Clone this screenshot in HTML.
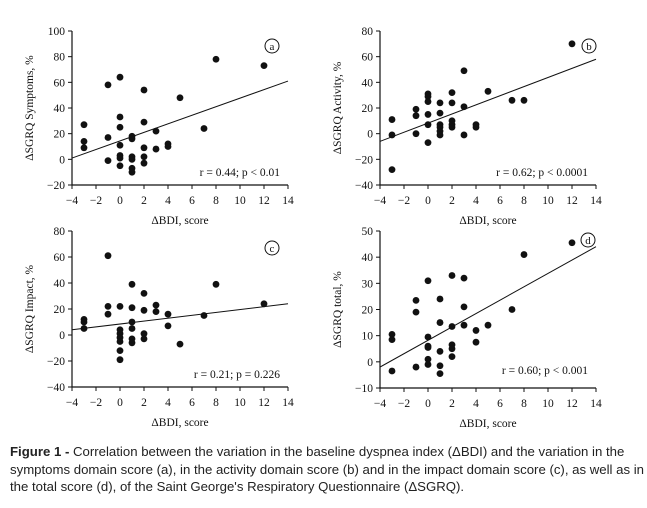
<!DOCTYPE html>
<html><head><meta charset="utf-8"><style>
body{margin:0;background:#fff;width:647px;height:508px;overflow:hidden}
svg{position:absolute;left:0;top:0}
.cap{position:absolute;left:10px;top:443px;width:640px;font:13.2px/17.5px "Liberation Sans",sans-serif;color:#222;white-space:nowrap}
</style></head><body>
<svg id="s" width="647" height="508" font-family="Liberation Serif, serif" fill="#111"></svg>
<div class="cap"><b>Figure 1 -</b> Correlation between the variation in the baseline dyspnea index (ΔBDI) and the variation in the<br>symptoms domain score (a), in the activity domain score (b) and in the impact domain score (c), as well as in<br>the total score (d), of the Saint George's Respiratory Questionnaire (ΔSGRQ).</div>
<script>
const P=[
{x0:72,x1:288,yt:31,yb:185,ymin:-20,ymax:100,step:20,lab:"ΔSGRQ Symptoms, %",tag:"a",tc:[272,46],st:"r = 0.44; p < 0.01",sy:176,line:[[-4,1],[14,61]],
pts:[[-3,27],[-3,14],[-3,9],[-1,58],[-1,17],[-1,-1],[0,64],[0,33],[0,25],[0,11],[0,3],[0,1],[0,-5],[1,18],[1,16],[1,2],[1,0],[1,-7],[1,-10],[2,54],[2,29],[2,9],[2,2],[2,-3],[3,22],[3,8],[4,12],[4,10],[5,48],[7,24],[8,78],[12,73]]},
{x0:380,x1:596,yt:31,yb:185,ymin:-40,ymax:80,step:20,lab:"ΔSGRQ Activity, %",tag:"b",tc:[589,46],st:"r = 0.62; p < 0.0001",sy:176,line:[[-4,-6],[14,58]],
pts:[[-3,11],[-3,-1],[-3,-28],[-1,19],[-1,14],[-1,0],[0,31],[0,29],[0,25],[0,15],[0,7],[0,-7],[1,24],[1,16],[1,7],[1,5],[1,2],[1,-1],[2,32],[2,24],[2,10],[2,7],[2,5],[3,49],[3,21],[3,-1],[4,7],[4,5],[5,33],[7,26],[8,26],[12,70]]},
{x0:72,x1:288,yt:231,yb:387,ymin:-40,ymax:80,step:20,lab:"ΔSGRQ Impact, %",tag:"c",tc:[272,248],st:"r = 0.21; p = 0.226",sy:378,line:[[-4,4],[14,24]],
pts:[[-3,12],[-3,10],[-3,5],[-1,61],[-1,22],[-1,16],[0,22],[0,4],[0,1],[0,-2],[0,-5],[0,-12],[0,-19],[1,39],[1,21],[1,10],[1,5],[1,-3],[1,-6],[2,32],[2,19],[2,1],[2,-3],[3,23],[3,18],[4,16],[4,7],[5,-7],[7,15],[8,39],[12,24]]},
{x0:380,x1:596,yt:231,yb:388,ymin:-10,ymax:50,step:10,lab:"ΔSGRQ total, %",tag:"d",tc:[588,240],st:"r = 0.60; p < 0.001",sy:374,line:[[-4,-2],[14,44]],
pts:[[-3,10.5],[-3,8.5],[-3,-3.5],[-1,23.5],[-1,19],[-1,-2],[0,31],[0,9.5],[0,6],[0,5.5],[0,1],[0,-1],[1,24],[1,15],[1,4],[1,-1.5],[1,-4.5],[2,33],[2,13.5],[2,6.5],[2,5],[2,2],[3,32],[3,21],[3,14],[4,12],[4,7.5],[5,14],[7,20],[8,41],[12,45.5]]}
];
let h="";
for(const p of P){
 const X=v=>p.x0+(v+4)*(p.x1-p.x0)/18, Y=v=>p.yb-(v-p.ymin)*(p.yb-p.yt)/(p.ymax-p.ymin);
 h+=`<path d="M${p.x0},${p.yt}V${p.yb}H${p.x1}" stroke="#111" stroke-width="1.2" fill="none"/>`;
 for(let v=p.ymin;v<=p.ymax;v+=p.step){const y=Y(v);h+=`<line x1="${p.x0-4}" x2="${p.x0}" y1="${y}" y2="${y}" stroke="#111"/><text x="${p.x0-7}" y="${y+4}" font-size="11.5" text-anchor="end">${v<0?"−"+(-v):v}</text>`;}
 for(let v=-4;v<=14;v+=2){const x=X(v);h+=`<line x1="${x}" x2="${x}" y1="${p.yb}" y2="${p.yb+4}" stroke="#111"/><text x="${x}" y="${p.yb+19}" font-size="11.5" text-anchor="middle">${v<0?"−"+(-v):v}</text>`;}
 h+=`<text x="${(p.x0+p.x1)/2}" y="${p.yb+39}" font-size="11.5" text-anchor="middle">ΔBDI, score</text>`;
 const cy=(p.yt+p.yb)/2,cx=p.x0-39;
 h+=`<text transform="translate(${cx},${cy}) rotate(-90)" font-size="11.5" text-anchor="middle">${p.lab}</text>`;
 h+=`<line x1="${X(p.line[0][0])}" y1="${Y(p.line[0][1])}" x2="${X(p.line[1][0])}" y2="${Y(p.line[1][1])}" stroke="#111" stroke-width="1"/>`;
 for(const q of p.pts)h+=`<circle cx="${X(q[0])}" cy="${Y(q[1])}" r="3.4"/>`;
 h+=`<circle cx="${p.tc[0]}" cy="${p.tc[1]}" r="7" fill="none" stroke="#111"/><text x="${p.tc[0]}" y="${p.tc[1]+4}" font-size="11" text-anchor="middle">${p.tag}</text>`;
 h+=`<text x="${p.x1-8}" y="${p.sy}" font-size="11.5" text-anchor="end">${p.st}</text>`;
}
document.getElementById("s").innerHTML=h;
</script>
</body></html>
